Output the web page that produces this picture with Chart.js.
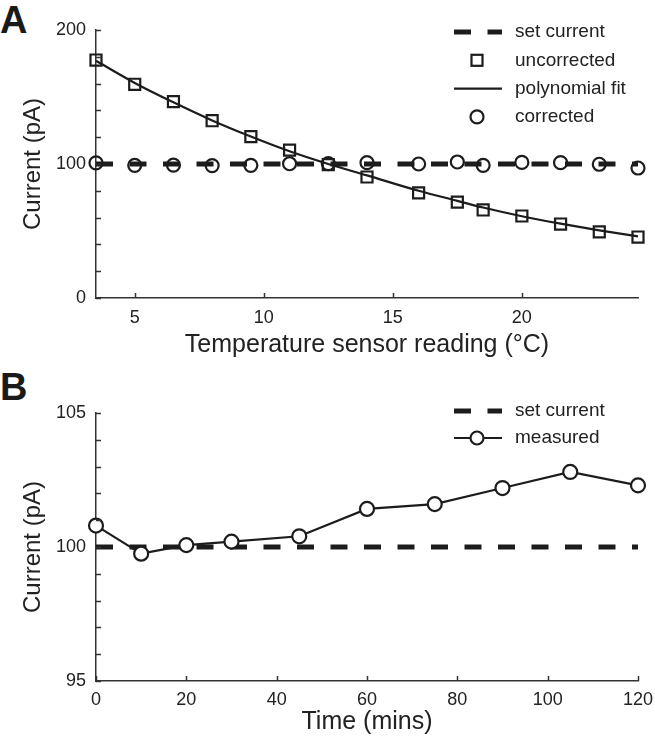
<!DOCTYPE html>
<html>
<head>
<meta charset="utf-8">
<script src="https://cdn.jsdelivr.net/npm/chart.js@4.4.1/dist/chart.umd.min.js"></script>
<style>
  body { margin: 0; background: #fff; width: 655px; height: 743px; position: relative; overflow: hidden; }
  .panel { position: absolute; left: 0; }
  .letter { position: absolute; left: 0; font: bold 38px "Liberation Sans", Arial, sans-serif; line-height: 38px; color: #1a1a1a; }
</style>
</head>
<body>
<div class="letter" style="top:1px">A</div>
<div class="letter" style="top:368px">B</div>
<canvas id="chartA" class="panel" style="top:0" width="655" height="370"></canvas>
<canvas id="chartB" class="panel" style="top:370px" width="655" height="373"></canvas>
<script>
// Panel A: temperature calibration
const tempReadings = [3.5, 5, 6.5, 8, 9.5, 11, 12.5, 14, 16, 17.5, 18.5, 20, 21.5, 23, 24.5];
const uncorrected = [177.6, 159.5, 146.5, 132.3, 120.4, 110.4, 99.5, 90.3, 78.4, 71.6, 65.7, 61.2, 55.2, 49.3, 45.5];
const polyFit = [177, 160.5, 146, 132.5, 120.5, 109.5, 100, 91.5, 80, 72.5, 67.5, 61, 55.5, 50.5, 46];
const corrected = [100.8, 99.0, 99.2, 98.8, 99.0, 100.2, 100.3, 101.0, 100.0, 101.5, 99.0, 101.2, 101.0, 99.8, 97.0];
const setCurrentA = 100;
const tempTicks = [5, 10, 15, 20];
const currentLabelsA = [0, 100, 200];
const legendA = ["set current", "uncorrected", "polynomial fit", "corrected"];

// Panel B: stability over time
const times = [0, 10, 20, 30, 45, 60, 75, 90, 105, 120];
const measured = [100.8, 99.75, 100.07, 100.2, 100.4, 101.42, 101.6, 102.2, 102.8, 102.3];
const setCurrentB = 100;
const currentLabelsB = [95, 100, 105];
const legendB = ["set current", "measured"];

const ink = "#1c1c1c";
const axisInk = "#333";
const dash = [17, 16.5];

Chart.defaults.font.family = "'Liberation Sans', Arial, sans-serif";
Chart.defaults.color = "#222";

const toPoints = (xs, ys) => xs.map((x, i) => ({ x, y: ys[i] }));

// small tick marks pointing into the plot
const inwardTicks = {
  id: "inwardTicks",
  afterDraw(chart) {
    const { ctx, chartArea, scales: { x, y } } = chart;
    ctx.save();
    ctx.strokeStyle = axisInk;
    ctx.lineWidth = 1.5;
    ctx.beginPath();
    x.ticks.forEach(t => {
      const px = Math.round(x.getPixelForValue(t.value)) + 0.5;
      ctx.moveTo(px, chartArea.bottom);
      ctx.lineTo(px, chartArea.bottom - 5);
    });
    y.ticks.forEach(t => {
      const py = Math.round(y.getPixelForValue(t.value)) + 0.5;
      ctx.moveTo(chartArea.left, py);
      ctx.lineTo(chartArea.left + 5, py);
    });
    ctx.stroke();
    ctx.restore();
  }
};

// legend drawn inside the top-right of the plot
const boxLegend = {
  id: "boxLegend",
  afterDraw(chart, args, opts) {
    const { ctx, chartArea } = chart;
    const symX = chartArea.right - 161;
    const textX = chartArea.right - 123;
    ctx.save();
    ctx.font = "19px 'Liberation Sans', Arial, sans-serif";
    ctx.textBaseline = "middle";
    ctx.fillStyle = "#222";
    opts.items.forEach((item, i) => {
      const y = chartArea.top + opts.top + i * opts.step;
      ctx.strokeStyle = ink;
      if (item.kind === "dash") {
        ctx.lineWidth = 5;
        ctx.setLineDash(dash);
        ctx.beginPath();
        ctx.moveTo(symX - 23, y);
        ctx.lineTo(symX + 25, y);
        ctx.stroke();
        ctx.setLineDash([]);
      }
      if (item.kind === "line" || item.kind === "lineCircle") {
        ctx.lineWidth = 2.2;
        ctx.beginPath();
        ctx.moveTo(symX - 23, y);
        ctx.lineTo(symX + 25, y);
        ctx.stroke();
      }
      if (item.kind === "rect") {
        ctx.lineWidth = 2.2;
        ctx.strokeRect(symX - 5.5, y - 5.5, 11, 11);
      }
      if (item.kind === "circle" || item.kind === "lineCircle") {
        ctx.lineWidth = 2.2;
        ctx.beginPath();
        ctx.arc(symX, y, 6.5, 0, Math.PI * 2);
        if (item.kind === "lineCircle") { ctx.fillStyle = "#fff"; ctx.fill(); ctx.fillStyle = "#222"; }
        ctx.stroke();
      }
      ctx.fillText(item.label, textX, y);
    });
    ctx.restore();
  }
};

function axisStyle(extra) {
  return Object.assign({
    type: "linear",
    grid: { display: false, drawTicks: false },
    border: { display: true, color: axisInk, width: 1.5 },
  }, extra);
}

// ---- Panel A ----
new Chart(document.getElementById("chartA"), {
  type: "scatter",
  data: {
    datasets: [
      {
        label: legendA[1],
        data: toPoints(tempReadings, uncorrected),
        pointStyle: "rect",
        pointRadius: 7.8,
        pointBorderWidth: 2.2,
        borderColor: ink,
        backgroundColor: "rgba(0,0,0,0)",
        clip: false,
      },
      {
        label: legendA[3],
        data: toPoints(tempReadings, corrected),
        pointStyle: "circle",
        pointRadius: 6.5,
        pointBorderWidth: 2.2,
        borderColor: ink,
        backgroundColor: "rgba(0,0,0,0)",
        clip: false,
      },
      {
        label: legendA[2],
        data: toPoints(tempReadings, polyFit),
        showLine: true,
        pointRadius: 0,
        borderWidth: 2.2,
        borderColor: ink,
        cubicInterpolationMode: "monotone",
        clip: false,
      },
      {
        label: legendA[0],
        data: toPoints([tempReadings[0], tempReadings[tempReadings.length - 1]], [setCurrentA, setCurrentA]),
        showLine: true,
        pointRadius: 0,
        borderWidth: 5,
        borderDash: dash,
        borderColor: ink,
        clip: false,
      },
    ],
  },
  options: {
    responsive: false,
    animation: false,
    devicePixelRatio: 1,
    layout: { padding: { top: 30, right: 17, left: 0, bottom: 0 } },
    plugins: {
      legend: { display: false },
      tooltip: { enabled: false },
      boxLegend: {
        top: 2, step: 28.3,
        items: [
          { label: legendA[0], kind: "dash" },
          { label: legendA[1], kind: "rect" },
          { label: legendA[2], kind: "line" },
          { label: legendA[3], kind: "circle" },
        ],
      },
    },
    scales: {
      x: axisStyle({
        min: 3.5, max: 24.5,
        afterBuildTicks: s => { s.ticks = tempTicks.map(v => ({ value: v })); },
        afterFit: s => { s.height = 72; s.paddingLeft = 0; s.paddingRight = 0; },
        ticks: { font: { size: 18 }, padding: 9, maxRotation: 0 },
        title: { display: true, text: "Temperature sensor reading (°C)", font: { size: 25 }, padding: { top: 0, bottom: 10 } },
      }),
      y: axisStyle({
        min: 0, max: 200,
        afterFit: s => { s.width = 96; },
        ticks: {
          stepSize: 20, padding: 10, font: { size: 18 },
          callback: v => currentLabelsA.includes(v) ? v : "",
        },
        title: { display: true, text: "Current (pA)", font: { size: 24 }, padding: { top: 19, bottom: 0 } },
      }),
    },
  },
  plugins: [inwardTicks, boxLegend],
});

// ---- Panel B ----
new Chart(document.getElementById("chartB"), {
  type: "scatter",
  data: {
    datasets: [
      {
        label: legendB[1],
        data: toPoints(times, measured),
        showLine: true,
        pointStyle: "circle",
        pointRadius: 7,
        pointBorderWidth: 2.2,
        borderWidth: 2.2,
        borderColor: ink,
        backgroundColor: "#fff",
        clip: false,
      },
      {
        label: legendB[0],
        data: toPoints([times[0], times[times.length - 1]], [setCurrentB, setCurrentB]),
        showLine: true,
        pointRadius: 0,
        borderWidth: 5,
        borderDash: dash,
        borderColor: ink,
        clip: false,
      },
    ],
  },
  options: {
    responsive: false,
    animation: false,
    devicePixelRatio: 1,
    layout: { padding: { top: 43, right: 17, left: 0, bottom: 0 } },
    plugins: {
      legend: { display: false },
      tooltip: { enabled: false },
      boxLegend: {
        top: -2, step: 27,
        items: [
          { label: legendB[0], kind: "dash" },
          { label: legendB[1], kind: "lineCircle" },
        ],
      },
    },
    scales: {
      x: axisStyle({
        min: 0, max: 120,
        afterFit: s => { s.height = 62; s.paddingLeft = 0; s.paddingRight = 0; },
        ticks: { stepSize: 20, font: { size: 18 }, padding: 8, maxRotation: 0 },
        title: { display: true, text: "Time (mins)", font: { size: 25 }, padding: { top: 0, bottom: 6 } },
      }),
      y: axisStyle({
        min: 95, max: 105,
        afterFit: s => { s.width = 96; },
        ticks: {
          stepSize: 1, padding: 10, font: { size: 18 },
          callback: v => currentLabelsB.includes(v) ? v : "",
        },
        title: { display: true, text: "Current (pA)", font: { size: 24 }, padding: { top: 19, bottom: 0 } },
      }),
    },
  },
  plugins: [inwardTicks, boxLegend],
});
</script>
</body>
</html>
